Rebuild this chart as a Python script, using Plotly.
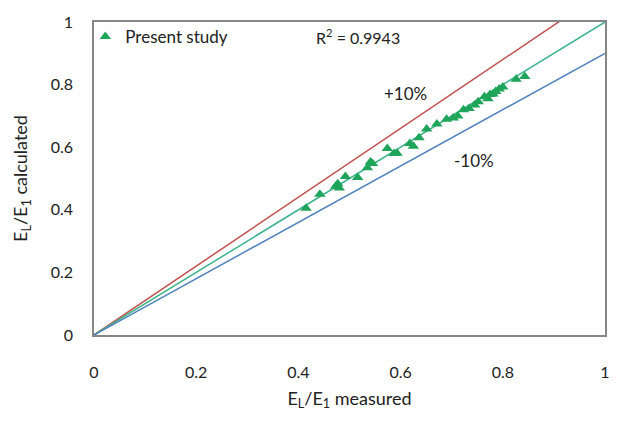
import plotly.graph_objects as go

# Measured vs calculated E_L/E_1 ratios
measured = [0.415, 0.442, 0.473, 0.477, 0.480, 0.492, 0.516, 0.535, 0.541, 0.545,
            0.574, 0.587, 0.593, 0.618, 0.625, 0.636, 0.651, 0.671, 0.690, 0.703,
            0.712, 0.723, 0.734, 0.745, 0.752, 0.764, 0.771, 0.775, 0.781, 0.786,
            0.793, 0.800, 0.826, 0.843]
calculated = [0.405, 0.450, 0.475, 0.483, 0.470, 0.506, 0.503, 0.534, 0.553, 0.548,
              0.596, 0.580, 0.581, 0.612, 0.603, 0.630, 0.658, 0.674, 0.689, 0.693,
              0.700, 0.720, 0.724, 0.735, 0.745, 0.761, 0.755, 0.768, 0.770, 0.778,
              0.786, 0.792, 0.817, 0.826]

# Reference lines: equality and +/-10 % bands
ref_x = [0.0, 1.0]
band_factors = {"+10%": 1.1, "equal": 1.0, "-10%": 0.9}
r_squared = 0.9943

tick_vals = [0, 0.2, 0.4, 0.6, 0.8, 1]
tick_text = ["0", "0.2", "0.4", "0.6", "0.8", "1"]

FONT = "Lato, 'Open Sans', sans-serif"
TXT = "#222"

fig = go.Figure()

line_colors = {"+10%": "#C0504D", "equal": "#3DB38A", "-10%": "#4F81BD"}
for name, k in band_factors.items():
    fig.add_trace(go.Scatter(
        x=ref_x, y=[k * v for v in ref_x], mode="lines",
        line=dict(color=line_colors[name], width=1.5),
        showlegend=False, hoverinfo="skip",
    ))

fig.add_trace(go.Scatter(
    x=measured, y=calculated, mode="markers", name="Present study",
    marker=dict(symbol="triangle-up", size=10, color="#1FA55A"),
))

fig.add_annotation(x=0.43, y=0.955, xref="x", yref="y", showarrow=False,
                   text=f"R<sup>2</sup> = {r_squared}", xanchor="left",
                   font=dict(family=FONT, size=16, color=TXT))
fig.add_annotation(x=0.609, y=0.773, xref="x", yref="y", showarrow=False,
                   text="+10%", font=dict(family=FONT, size=17, color=TXT))
fig.add_annotation(x=0.744, y=0.559, xref="x", yref="y", showarrow=False,
                   text="-10%", font=dict(family=FONT, size=17, color=TXT))

axis_common = dict(
    range=[0, 1], tickvals=tick_vals, ticktext=tick_text,
    showgrid=False, zeroline=False, showline=True, mirror=True,
    linecolor="#868686", linewidth=1.5,
    tickfont=dict(family=FONT, size=16, color=TXT),
    ticks="",
)

fig.update_xaxes(**axis_common, ticklabelstandoff=22,
                 title=dict(text="E<sub>L</sub>/E<sub>1</sub> measured",
                            font=dict(family=FONT, size=18, color=TXT),
                            standoff=12))
fig.update_yaxes(**axis_common, ticklabelstandoff=16,
                 title=dict(text="E<sub>L</sub>/E<sub>1</sub> calculated",
                            font=dict(family=FONT, size=18, color=TXT),
                            standoff=18))

fig.update_layout(
    width=622, height=425,
    margin=dict(l=94, r=12, t=13, b=90),
    paper_bgcolor="white", plot_bgcolor="white",
    showlegend=True,
    legend=dict(x=-0.017, y=1.01, xanchor="left", yanchor="top",
                bgcolor="rgba(0,0,0,0)",
                font=dict(family=FONT, size=17, color=TXT),
                itemwidth=30),
)

fig.write_html("out.html")
